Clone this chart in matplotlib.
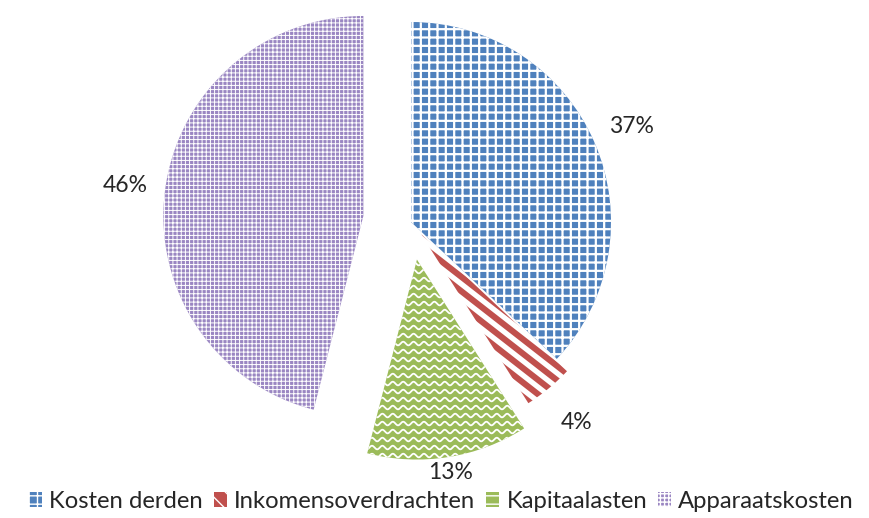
import numpy as np
import matplotlib
matplotlib.use("Agg")
import matplotlib.pyplot as plt
from matplotlib.patches import Patch

# data
categories = ["Kosten derden", "Inkomensoverdrachten", "Kapitaalasten", "Apparaatskosten"]
values = [37, 4, 13, 46]
pct_labels = ["37%", "4%", "13%", "46%"]
explode = [0.0, 0.08, 0.19, 0.24]
label_dist = [1.2, 1.22, 1.08, 1.2]

plt.rcParams['font.family'] = ['Lato', 'DejaVu Sans']

fig = plt.figure(figsize=(8.69, 5.18), dpi=100)
ax = fig.add_axes([0, 0, 1, 1])

wedges, _ = ax.pie(values, explode=explode, startangle=90, counterclock=False,
                   radius=1.0, center=(0, 0))

# styles
fills = ['#4f81bd', 'white', '#9bbb59', '#9a86c2']
hatches = ['++', None, None, '++++']
hatch_lw = [1.6, 1.0, 1.0, 0.7]
for w, fc, h, lw in zip(wedges, fills, hatches, hatch_lw):
    w.set_facecolor(fc)
    w.set_edgecolor('white')
    w.set_linewidth(0)
    if h:
        w.set_hatch(h)
        if hasattr(w, 'set_hatch_linewidth'):
            w.set_hatch_linewidth(lw)

# red diagonal stripes
r = wedges[1]
cx, cy = r.center
xs = np.array([cx - 1.5, cx + 1.5])
for b in np.arange(-2.0, 2.0, 0.072):
    line, = ax.plot(xs, cy + b - 0.78 * (xs - cx), color='#c0504d', lw=4.4,
                    solid_capstyle='butt')
    line.set_clip_path(r)

# wavy pattern for the green slice
g = wedges[2]
cx, cy = g.center
xs = np.linspace(cx - 1.1, cx + 1.1, 800)
for y0 in np.arange(cy - 1.1, cy + 0.2, 0.04):
    line, = ax.plot(xs, y0 + 0.009 * np.sin(xs * 2 * np.pi / 0.052), color='white', lw=1.3)
    line.set_clip_path(g)

# percentage labels
for w, lab, d in zip(wedges, pct_labels, label_dist):
    mid = np.deg2rad((w.theta1 + w.theta2) / 2)
    x = w.center[0] + d * w.r * np.cos(mid)
    y = w.center[1] + d * w.r * np.sin(mid)
    ax.text(x, y, lab, ha='center', va='center', fontsize=16.5, color='#262626')

# map so that the whole figure is in data units (radius = 200 px)
ax.set_xlim(-411 / 200, (869 - 411) / 200)
ax.set_ylim(-(518 - 222) / 200, 222 / 200)
ax.set_aspect('auto')
ax.axis('off')

handles = [
    Patch(facecolor='#4f81bd', edgecolor='white', hatch='++', linewidth=0),
    Patch(facecolor='#c0504d', edgecolor='white', hatch='\\\\', linewidth=0),
    Patch(facecolor='#9bbb59', edgecolor='white', hatch='--', linewidth=0),
    Patch(facecolor='#9a86c2', edgecolor='white', hatch='++++', linewidth=0),
]
fig.legend(handles, categories, loc='lower center', bbox_to_anchor=(0.508, -0.03), ncol=4,
           frameon=False, fontsize=17.2, handlelength=0.55, handleheight=0.6,
           handletextpad=0.3, columnspacing=0.45, labelcolor='#262626')

fig.savefig('out.png', dpi=100)
